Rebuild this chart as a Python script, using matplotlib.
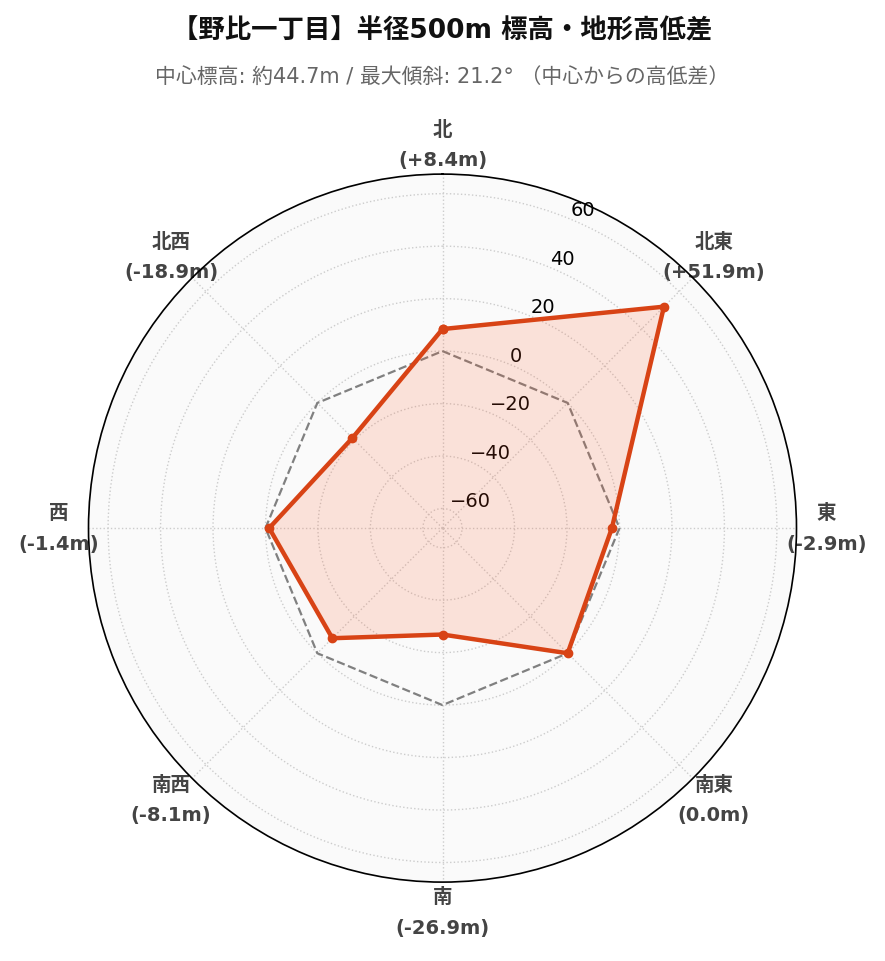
import numpy as np
import matplotlib
matplotlib.use("Agg")
from matplotlib import pyplot as plt

plt.rcParams['font.family'] = ['DejaVu Sans', 'Noto Sans CJK JP']

directions = ["北", "北東", "東", "南東", "南", "南西", "西", "北西"]
diffs = [8.4, 51.9, -2.9, 0.0, -26.9, -8.1, -1.4, -18.9]
center_elev = 44.7
max_slope = 21.2
area = "野比一丁目"

line_color = "#d84315"
fill_color = "#ff5722"

angles = np.linspace(0, 2 * np.pi, len(directions), endpoint=False)
closed_angles = np.concatenate([angles, angles[:1]])
closed_vals = np.array(diffs + diffs[:1])

lim = max(abs(v) for v in diffs) * 1.3

fig = plt.figure(figsize=(8.85, 9.62), dpi=100)
ax = fig.add_axes([0.1, 0.081, 0.8, 0.738], projection="polar")
ax.set_facecolor("#fafafa")
ax.set_theta_zero_location("N")
ax.set_theta_direction(-1)
ax.set_ylim(-lim, lim)

# zero reference
ax.plot(closed_angles, np.zeros_like(closed_angles), linestyle="--",
	color="gray", linewidth=1.6, zorder=2)

ax.fill(closed_angles, closed_vals, color=fill_color, alpha=0.15, zorder=3)
ax.plot(closed_angles, closed_vals, color=line_color, linewidth=3.2,
	marker="o", markersize=6, zorder=4)

labels = ["%s\n(%+.1fm)" % (d, v) if v != 0 else "%s\n(%.1fm)" % (d, v)
	for d, v in zip(directions, diffs)]
ax.set_xticks(angles)
ax.set_xticklabels(labels, fontsize=14, fontweight="bold", color="#444444",
	linespacing=1.75)
ax.tick_params(axis="x", pad=11)

ax.set_yticks([-60, -40, -20, 0, 20, 40, 60])
ax.tick_params(axis="y", labelsize=14)
ax.set_rlabel_position(22.5)

ax.grid(True, linestyle=":", color="#cccccc", linewidth=1)
ax.spines["polar"].set_color("black")
ax.spines["polar"].set_linewidth(1.2)

fig.text(0.5, 0.967, "【%s】半径500m 標高・地形高低差" % area,
	ha="center", va="center", fontsize=19, fontweight="bold", color="#111111")
fig.text(0.5, 0.92, "中心標高: 約%.1fm / 最大傾斜: %.1f° （中心からの高低差）" % (center_elev, max_slope),
	ha="center", va="center", fontsize=15, color="#666666")

fig.savefig("out.png", dpi=100, facecolor="white")
plt.close()
